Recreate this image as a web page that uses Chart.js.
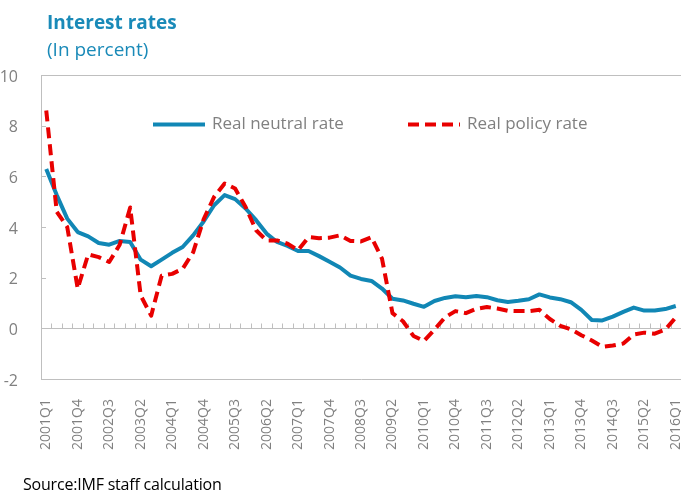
<!DOCTYPE html>
<html>
<head>
<meta charset="utf-8">
<script src="https://cdn.jsdelivr.net/npm/chart.js@4.4.1/dist/chart.umd.min.js"></script>
<style>
    body { margin: 0; background: #fff; }
    #wrap { position: relative; width: 681px; height: 492px; overflow: hidden; font-family: "Open Sans", "Noto Sans", sans-serif; }
    #chartBox { position: absolute; left: 0; top: 0; width: 681px; height: 492px; }
    .title { position: absolute; left: 47px; top: 9px; color: #1a8ab8; font-size: 19px; font-weight: bold; }
    .subtitle { position: absolute; left: 47px; top: 36px; color: #1a8ab8; font-size: 19px; }
    .source { position: absolute; left: 23px; top: 473px; color: #000; font-size: 16px; letter-spacing: -0.2px; }
</style>
</head>
<body>
<div id="wrap">
    <div id="chartBox"><canvas id="chart1"></canvas></div>
    <div class="title">Interest rates</div>
    <div class="subtitle">(In percent)</div>
    <div class="source">Source:IMF staff calculation</div>
</div>
<script>
var quarters = [
    "2001Q1", "2001Q2", "2001Q3", "2001Q4", "2002Q1", "2002Q2", "2002Q3", "2002Q4",
    "2003Q1", "2003Q2", "2003Q3", "2003Q4", "2004Q1", "2004Q2", "2004Q3", "2004Q4",
    "2005Q1", "2005Q2", "2005Q3", "2005Q4", "2006Q1", "2006Q2", "2006Q3", "2006Q4",
    "2007Q1", "2007Q2", "2007Q3", "2007Q4", "2008Q1", "2008Q2", "2008Q3", "2008Q4",
    "2009Q1", "2009Q2", "2009Q3", "2009Q4", "2010Q1", "2010Q2", "2010Q3", "2010Q4",
    "2011Q1", "2011Q2", "2011Q3", "2011Q4", "2012Q1", "2012Q2", "2012Q3", "2012Q4",
    "2013Q1", "2013Q2", "2013Q3", "2013Q4", "2014Q1", "2014Q2", "2014Q3", "2014Q4",
    "2015Q1", "2015Q2", "2015Q3", "2015Q4", "2016Q1"
];

var neutralRate = [
    6.29, 5.26, 4.33, 3.80, 3.63, 3.37, 3.30, 3.45, 3.41, 2.71,
    2.45, 2.71, 2.98, 3.21, 3.67, 4.22, 4.86, 5.26, 5.10, 4.73,
    4.27, 3.74, 3.41, 3.25, 3.05, 3.05, 2.85, 2.63, 2.40, 2.08,
    1.95, 1.87, 1.57, 1.17, 1.10, 0.97, 0.85, 1.08, 1.20, 1.27,
    1.23, 1.28, 1.23, 1.11, 1.04, 1.09, 1.15, 1.34, 1.22, 1.15,
    1.03, 0.73, 0.33, 0.31, 0.46, 0.65, 0.82, 0.70, 0.70, 0.76,
    0.88
];

var policyRate = [
    8.60, 4.60, 4.00, 1.57, 2.92, 2.81, 2.62, 3.30, 4.77, 1.30,
    0.50, 2.08, 2.15, 2.35, 3.00, 4.30, 5.19, 5.72, 5.52, 4.79,
    3.87, 3.47, 3.47, 3.34, 3.08, 3.60, 3.56, 3.58, 3.67, 3.45,
    3.43, 3.60, 2.75, 0.60, 0.28, -0.30, -0.50, -0.05, 0.43, 0.68,
    0.60, 0.77, 0.84, 0.78, 0.69, 0.68, 0.68, 0.73, 0.37, 0.10,
    -0.04, -0.27, -0.48, -0.73, -0.68, -0.60, -0.24, -0.17, -0.21, -0.05,
    0.43
];

var yTicks = [-2, 0, 2, 4, 6, 8, 10];

var axisGrey = "#bfbfbf";
var textGrey = "#808080";
var fontName = "'Open Sans', 'Noto Sans', sans-serif";

// zero line with category ticks, top border, inner y ticks
var decorPlugin = {
    id: "decor",
    beforeDatasetsDraw: function (chart) {
        var ctx = chart.ctx;
        var a = chart.chartArea;
        var x = chart.scales.x;
        var y = chart.scales.y;
        ctx.save();
        ctx.strokeStyle = axisGrey;
        ctx.lineWidth = 1;
        ctx.beginPath();
        ctx.moveTo(a.left, a.top + 0.5);
        ctx.lineTo(a.right, a.top + 0.5);

        var y0 = Math.round(y.getPixelForValue(0)) + 0.5;
        ctx.moveTo(a.left, y0);
        ctx.lineTo(a.right, y0);
        var step = x.getPixelForValue(1) - x.getPixelForValue(0);
        for (var i = 1; i <= quarters.length; i++) {
            var px = Math.round(x.getPixelForValue(0) - step / 2 + i * step) + 0.5;
            ctx.moveTo(px, y0);
            ctx.lineTo(px, y0 - 5);
        }
        y.ticks.forEach(function (t) {
            var py = Math.round(y.getPixelForValue(t.value)) + 0.5;
            ctx.moveTo(a.left, py);
            ctx.lineTo(a.left + 5, py);
        });
        ctx.stroke();
        ctx.restore();
    },
    afterDraw: function (chart) {
        //legend sits inside the plot like the excel one
        var ctx = chart.ctx;
        var spots = [153, 408];
        ctx.save();
        chart.data.datasets.forEach(function (ds, k) {
            var lx = spots[k];
            var ly = 124.5;
            ctx.strokeStyle = ds.borderColor;
            ctx.lineWidth = ds.borderWidth;
            ctx.setLineDash(ds.borderDash || []);
            ctx.lineCap = "butt";
            ctx.beginPath();
            ctx.moveTo(lx, ly);
            ctx.lineTo(lx + 52, ly);
            ctx.stroke();
            ctx.setLineDash([]);
            ctx.fillStyle = textGrey;
            ctx.font = "17px " + fontName;
            ctx.textBaseline = "middle";
            ctx.fillText(ds.label, lx + 59, ly);
        });
        ctx.restore();
    }
};

var chart = new Chart(document.getElementById("chart1"), {
    type: "line",
    data: {
        labels: quarters,
        datasets: [
            {
                label: "Real neutral rate",
                data: neutralRate,
                borderColor: "#1187b5",
                borderWidth: 4,
                borderJoinStyle: "round",
                pointRadius: 0,
                tension: 0,
                order: 2,
            },
            {
                label: "Real policy rate",
                data: policyRate,
                borderColor: "#e80000",
                borderWidth: 4,
                borderDash: [11, 6],
                borderJoinStyle: "round",
                pointRadius: 0,
                tension: 0,
                order: 1,
            }
        ]
    },
    options: {
        responsive: true,
        maintainAspectRatio: false,
        animation: false,
        layout: { padding: { top: 75, right: 0, bottom: 0, left: 0 } },
        plugins: {
            legend: { display: false },
            tooltip: { enabled: false },
        },
        scales: {
            x: {
                offset: true,
                grid: { display: false },
                border: { color: axisGrey, width: 1 },
                ticks: {
                    autoSkip: false,
                    maxRotation: 90,
                    minRotation: 90,
                    padding: 12,
                    color: textGrey,
                    font: { family: fontName, size: 14 },
                    callback: function (val, idx) {
                        return idx % 3 === 0 ? quarters[idx] : "";
                    }
                },
                afterFit: function (scale) {
                    scale.height = 113;
                    scale.paddingLeft = 0;
                    scale.paddingRight = 0;
                }
            },
            y: {
                min: yTicks[0],
                max: yTicks[yTicks.length - 1],
                grid: { display: false },
                border: { color: axisGrey, width: 1 },
                afterBuildTicks: function (scale) {
                    scale.ticks = yTicks.map(function (v) { return { value: v }; });
                },
                ticks: {
                    padding: 15,
                    labelOffset: 2,
                    color: textGrey,
                    font: { family: fontName, size: 16 },
                },
                afterFit: function (scale) {
                    scale.width = 41;
                    scale.paddingTop = 0;
                    scale.paddingBottom = 0;
                }
            }
        }
    },
    plugins: [decorPlugin]
});
</script>
</body>
</html>
